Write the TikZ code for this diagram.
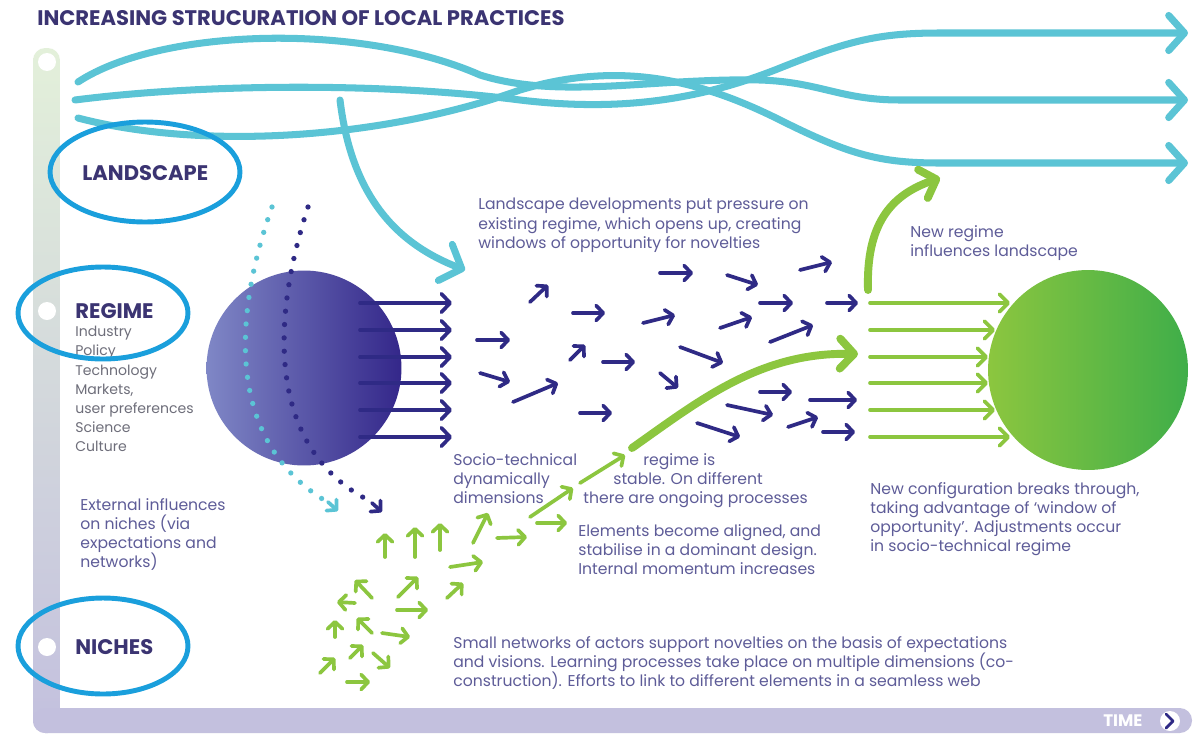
\documentclass[tikz,border=0pt]{standalone}
\usepackage{fontspec}
\setmainfont{Poppins}
\usetikzlibrary{arrows.meta}

\definecolor{titlepurple}{HTML}{3B3472}
\definecolor{textpurple}{HTML}{5E5C98}
\definecolor{listgray}{HTML}{6E6E7A}
\definecolor{indigo}{HTML}{2F2A85}
\definecolor{landcyan}{HTML}{5BC4D5}
\definecolor{ringblue}{HTML}{1A9FDC}
\definecolor{nichegreen}{HTML}{8CC63F}
\definecolor{darkgreen}{HTML}{3FAE49}
\definecolor{axisgreen}{HTML}{E3F0DA}
\definecolor{axisblue}{HTML}{D2ECF4}
\definecolor{axislav}{HTML}{C3C0DE}
\definecolor{spherelight}{HTML}{7F87C6}
\definecolor{spheredark}{HTML}{34278A}

\begin{document}
\begin{tikzpicture}[x=0.02cm,y=-0.02cm]
    \tikzset{caption/.style = {anchor=north west, inner sep=0, align=left, text=textpurple,
        font=\fontsize{8.9}{10.9}\selectfont}}
    \tikzset{level/.style = {anchor=west, inner sep=0, text=titlepurple, font=\fontsize{12}{14}\selectfont\bfseries}}
    \tikzset{landline/.style = {draw=landcyan, line width=4pt, line cap=round,
        -{Straight Barb[length=9pt,width=20pt,round]}}}
    \tikzset{flow/.style = {draw=indigo, line width=2.1pt, line cap=round,
        -{Straight Barb[length=4pt,width=8.5pt,round]}}}
    \tikzset{sprout/.style = {flow, draw=nichegreen}}
    \tikzset{ring/.style = {draw=ringblue, line width=2.8pt}}
    \tikzset{dots/.style = {line width=3pt, line cap=round, dash pattern=on 0pt off 7.6pt}}
    \useasboundingbox (0,0) rectangle (1202,734);
    \fill[white] (0,0) rectangle (1202,734);

    % time axis
    \shade[top color=axisgreen, middle color=axisblue, bottom color=axislav, rounded corners=7pt]
        (33,48) rectangle (60,733);
    \fill[axislav, rounded corners=7pt] (33,708) rectangle (1192,733);
    \fill[white] (47,62) circle (0.18cm);
    \fill[white] (47,311) circle (0.18cm);
    \fill[white] (47,647) circle (0.18cm);
    \node[anchor=west, inner sep=0, text=white, font=\fontsize{9.5}{11}\selectfont\bfseries] (time) at (1103,721) {TIME};
    \node[circle, fill=white, minimum size=0.4cm, inner sep=0] (timedot) at (1170,721) {};
    \draw[indigo, line width=1.6pt, line cap=round, line join=round] (1166,714) -- (1173,721) -- (1166,728);

    \node[anchor=west, inner sep=0, text=titlepurple, font=\fontsize{12}{14}\selectfont\bfseries] (title) at (37,18)
        {INCREASING STRUCURATION OF LOCAL PRACTICES};

    % landscape
    \draw[landline] (78,82) .. controls (160,28) and (360,22) .. (480,75)
        .. controls (560,100) and (650,78) .. (760,80) .. controls (820,82) and (840,100) .. (900,100) -- (1188,100);
    \draw[landline] (75,100) .. controls (200,84) and (380,82) .. (520,100)
        .. controls (620,112) and (700,100) .. (780,68) .. controls (850,40) and (880,33) .. (940,33) -- (1188,33);
    \draw[landline] (78,118) .. controls (200,150) and (380,140) .. (520,90)
        .. controls (620,60) and (700,80) .. (780,120) .. controls (850,155) and (880,163) .. (940,163) -- (1188,163);
    \draw[landline, -{Straight Barb[length=10pt,width=22pt,round]}] (340,100) .. controls (352,200) and (400,245) .. (465,270);

    % regime and new regime
    \node[circle, minimum size=3.9cm, inner sep=0, left color=spherelight, right color=spheredark] (regime) at (304,368) {};
    \node[circle, minimum size=4cm, inner sep=0, left color=nichegreen, right color=darkgreen] (newregime) at (1088,370) {};
    \foreach \y in {303,330,357,383,410,437}
        \draw[flow, -{Straight Barb[length=5pt,width=10.5pt,round]}] (360,\y) -- (452,\y);
    \foreach \y/\x in {303/1010,330/995,357/988,383/988,410/995,437/1010}
        \draw[sprout, -{Straight Barb[length=5pt,width=10pt,round]}] (870,\y) -- (\x,\y);

    % external influences
    \draw[dots, draw=landcyan] (272,207) .. controls (232,320) and (228,440) .. (324,500);
    \draw[dots, draw=indigo] (308,207) .. controls (268,330) and (272,450) .. (368,500);
    \draw[flow, draw=landcyan] (328,502) -- (338,511);
    \draw[flow] (372,503) -- (382,512);

    % unstable field
    \foreach \a/\b/\c/\d in {530/302/548/285, 477/340/510/340, 480/373/510/382, 513/402/558/383,
        573/313/605/313, 570/360/585/345, 603/362/635/362, 580/413/612/413, 660/273/693/273,
        643/323/675/315, 680/347/723/363, 660/373/678/388, 727/275/758/285, 720/328/752/317,
        760/303/793/303, 800/270/832/262, 770/342/813/325, 827/303/858/303, 760/392/792/392,
        727/405/773/415, 810/400/857/400, 697/423/740/437, 788/427/818/417, 823/432/855/432}
        \draw[flow] (\a,\b) -- (\c,\d);

    % niches
    \foreach \a/\b/\c/\d in {385/557/385/533, 415/557/415/527, 440/550/440/523, 473/543/488/513,
        497/538/527/537, 537/523/567/523, 530/517/573/488, 580/483/625/455, 450/567/483/562,
        447/598/463/583, 398/597/418/577, 397/610/428/610, 372/598/355/580, 355/603/337/602,
        335/637/335/620, 372/633/357/618, 382/633/410/637, 320/673/335/658, 350/658/363/645,
        373/653/390/668, 347/682/370/682}
        \draw[sprout] (\a,\b) -- (\c,\d);
    \draw[sprout, line width=4.5pt, -{Straight Barb[length=8pt,width=17pt,round]}]
        (632,448) .. controls (700,400) and (760,352) .. (858,354);
    \draw[sprout, line width=4.5pt, -{Straight Barb[length=8pt,width=17pt,round]}]
        (868,290) .. controls (866,225) and (890,195) .. (940,178);

    % texts
    \node[caption] (pressure) at (478,198) {Landscape developments put pressure on\\existing regime, which opens up, creating\\windows of opportunity for novelties};
    \node[caption] (socio) at (453,453) {Socio-technical\\dynamically\\dimensions};
    \node[caption] (stableA) at (643,453) {regime is};
    \node[caption] (stableB) at (613,472) {stable. On different};
    \node[caption] (stableC) at (583,491) {there are ongoing processes};
    \node[caption] (aligned) at (578,524) {Elements become aligned, and\\stabilise in a dominant design.\\Internal momentum increases};
    \node[caption] (smallnet) at (453,636) {Small networks of actors support novelties on the basis of expectations\\and visions. Learning processes take place on multiple dimensions (co-\\construction). Efforts to link to different elements in a seamless web};
    \node[caption] (influence) at (910,225) {New regime\\influences landscape};
    \node[caption] (breaks) at (870,482) {New configuration breaks through,\\taking advantage of `window of\\opportunity'. Adjustments occur\\in socio-technical regime};
    \node[caption] (external) at (80,498) {External influences\\on niches (via\\expectations and\\networks)};

    \node[level] (landscape) at (82,173) {LANDSCAPE};
    \node[level] (regimelbl) at (75,311) {REGIME};
    \node[caption, text=listgray, font=\fontsize{8}{10.9}\selectfont] (dims) at (75,326)
        {Industry\\Policy\\Technology\\Markets,\\user preferences\\Science\\Culture};
    \node[level] (niches) at (75,647) {NICHES};

    \draw[ring] (145,172) ellipse [x radius=1.9cm, y radius=1cm];
    \draw[ring] (103,313) ellipse [x radius=1.7cm, y radius=0.92cm];
    \draw[ring] (103,646) ellipse [x radius=1.7cm, y radius=0.96cm];
\end{tikzpicture}
\end{document}
